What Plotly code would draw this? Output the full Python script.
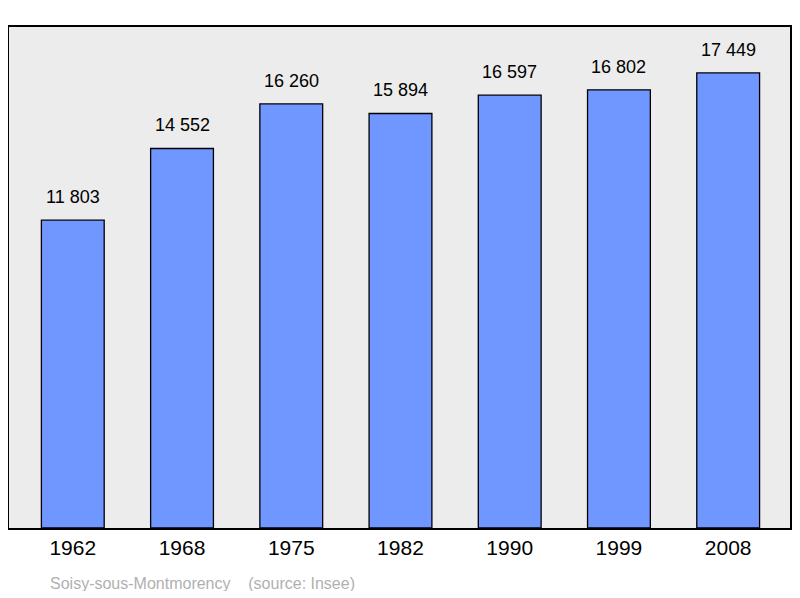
import plotly.graph_objects as go

years = ["1962", "1968", "1975", "1982", "1990", "1999", "2008"]
population = [11803, 14552, 16260, 15894, 16597, 16802, 17449]
labels = [f"{v:,}".replace(",", " ") for v in population]

fig = go.Figure()
fig.add_trace(go.Bar(
    x=list(range(len(years))), y=population,
    width=0.575,
    marker=dict(color="#7096ff", line=dict(color="#000000", width=1.3)),
    hoverinfo="skip",
))

for i, (v, t) in enumerate(zip(population, labels)):
    fig.add_annotation(x=i, y=v, text=t, showarrow=False, yshift=23,
                       font=dict(size=18, color="#000"))

# page body adds an 8px margin, so the figure is sized to fit inside
fig.update_layout(
    width=785, height=583,
    margin=dict(l=1, r=1, t=19, b=63),
    paper_bgcolor="white", plot_bgcolor="#ececec",
    font=dict(family="Liberation Sans, Arial, sans-serif"),
    showlegend=False,
    xaxis=dict(range=[-0.584, 6.566], tickvals=list(range(len(years))),
               ticktext=years, tickfont=dict(size=21, color="#000"),
               showgrid=False, zeroline=False, ticks="", showline=True,
               linecolor="black", linewidth=2, mirror=True),
    yaxis=dict(range=[0, 19210], showticklabels=False, showgrid=False,
               zeroline=False, ticks="", showline=True, linecolor="black",
               linewidth=2, mirror=True),
)
fig.add_annotation(xref="paper", yref="paper", x=0.05, y=-0.11,
                   xanchor="left", yanchor="middle", showarrow=False,
                   text="Soisy-sous-Montmorency&nbsp;&nbsp;&nbsp;&nbsp;(source: Insee)",
                   font=dict(size=16, color="#b0b0b0"))

fig.write_html("out.html")
